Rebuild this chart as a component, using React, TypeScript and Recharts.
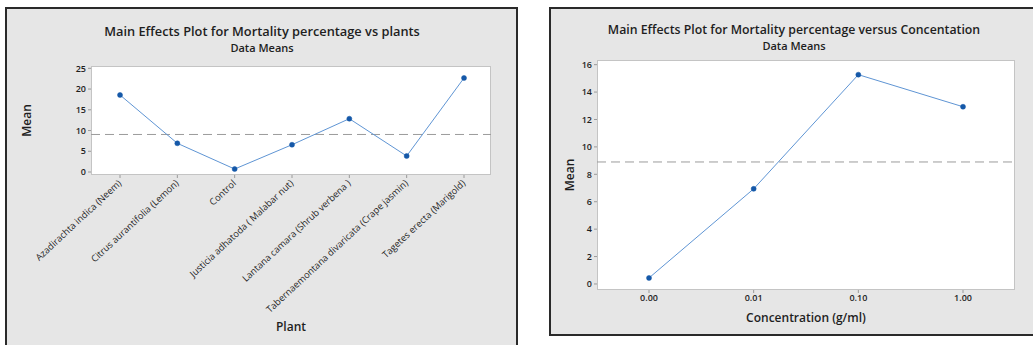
import { LineChart, Line, XAxis, YAxis, ReferenceLine } from "recharts";

const plants = [
  "Azadirachta indica (Neem)",
  "Citrus aurantifolia (Lemon)",
  "Control",
  "Justicia adhatoda ( Malabar nut)",
  "Lantana camara (Shrub verbena )",
  "Tabernaemontana divaricata (Crape jasmin)",
  "Tagetes erecta (Marigold)",
];
const plantMeans = [18.57, 6.92, 0.72, 6.58, 12.85, 3.86, 22.67];
const plantGrandMean = 9.05;
const plantTicks = [0, 5, 10, 15, 20, 25];

const concentrations = ["0.00", "0.01", "0.10", "1.00"];
const concMeans = [0.44, 6.94, 15.27, 12.93];
const concGrandMean = 8.9;
const concTicks = [0, 2, 4, 6, 8, 10, 12, 14, 16];

const plantData = plants.map((name, i) => ({ name, mean: plantMeans[i] }));
const concData = concentrations.map((name, i) => ({ name, mean: concMeans[i] }));

const FONT = "'Open Sans', 'Noto Sans', sans-serif";
const TEXT = "#1e1e1e";
const LINE = "#5f95d4";
const DOT = "#1558a8";
const DASH = "#9c9c9c";

function RotatedTick(props: any) {
  const { x, y, payload } = props;
  return (
    <g transform={`translate(${x + 2},${y + 4})`}>
      <text
        transform="rotate(-43)"
        textAnchor="end"
        fontSize={9.3}
        fontFamily={FONT}
        fill={TEXT}
      >
        {payload.value}
      </text>
    </g>
  );
}

const titleStyle: React.CSSProperties = {
  position: "absolute",
  textAlign: "center",
  fontFamily: FONT,
  fontWeight: 600,
  color: TEXT,
  whiteSpace: "nowrap",
};

export default function App() {
  return (
    <div
      style={{
        position: "fixed",
        left: 0,
        top: 0,
        width: 1033,
        height: 345,
        background: "#fff",
        overflow: "hidden",
      }}
    >
      {/* left panel */}
      <div
        style={{
          position: "absolute",
          left: 5,
          top: 7,
          width: 513,
          height: 360,
          boxSizing: "border-box",
          border: "2px solid #2a2a2a",
          background: "#e6e6e6",
        }}
      />
      <div
        style={{
          position: "absolute",
          left: 91,
          top: 66,
          width: 400,
          height: 109,
          boxSizing: "border-box",
          border: "1px solid #c4c4c4",
          background: "#fff",
        }}
      />
      <div style={{ ...titleStyle, left: 0, width: 524, top: 22, fontSize: 12.8 }}>
        Main Effects Plot for Mortality percentage vs plants
      </div>
      <div style={{ ...titleStyle, left: 0, width: 524, top: 40, fontSize: 11 }}>
        Data Means
      </div>
      <div style={{ position: "absolute", left: 0, top: 0 }}>
        <LineChart
          width={520}
          height={345}
          data={plantData}
          margin={{ top: 66, right: 29, bottom: 10, left: 61 }}
        >
          <XAxis
            dataKey="name"
            interval={0}
            padding={{ left: 29, right: 27 }}
            axisLine={false}
            tickLine={{ stroke: "#9a9a9a" }}
            tickSize={3}
            height={160}
            tick={<RotatedTick />}
            label={{
              value: "Plant",
              position: "insideBottom",
              offset: 4,
              style: { fontFamily: FONT, fontWeight: 600, fontSize: 12, fill: TEXT },
            }}
          />
          <YAxis
            type="number"
            domain={[-0.72, 25.56]}
            ticks={plantTicks}
            width={30}
            axisLine={false}
            tickLine={{ stroke: "#9a9a9a" }}
            tickSize={3}
            tick={{ fontSize: 9, fontFamily: FONT, fontWeight: 600, fill: TEXT }}
            label={{
              value: "Mean",
              angle: -90,
              position: "left",
              offset: 34,
              style: { textAnchor: "middle", fontFamily: FONT, fontWeight: 600, fontSize: 12, fill: TEXT },
            }}
          />
          <ReferenceLine y={plantGrandMean} stroke={DASH} strokeDasharray="9 5" />
          <Line
            dataKey="mean"
            stroke={LINE}
            strokeWidth={1}
            dot={{ r: 2.5, fill: DOT, stroke: DOT, strokeWidth: 0.5 }}
            isAnimationActive={false}
          />
        </LineChart>
      </div>

      {/* right panel */}
      <div
        style={{
          position: "absolute",
          left: 549,
          top: 7,
          width: 500,
          height: 329,
          boxSizing: "border-box",
          border: "2px solid #2a2a2a",
          background: "#e6e6e6",
        }}
      />
      <div
        style={{
          position: "absolute",
          left: 597,
          top: 60,
          width: 418,
          height: 230,
          boxSizing: "border-box",
          border: "1px solid #c4c4c4",
          background: "#fff",
        }}
      />
      <div style={{ ...titleStyle, left: 594, width: 400, top: 21, fontSize: 12.3 }}>
        Main Effects Plot for Mortality percentage versus Concentation
      </div>
      <div style={{ ...titleStyle, left: 594, width: 400, top: 38, fontSize: 11 }}>
        Data Means
      </div>
      <div style={{ position: "absolute", left: 540, top: 0 }}>
        <LineChart
          width={493}
          height={345}
          data={concData}
          margin={{ top: 60, right: 18, bottom: 15, left: 32 }}
        >
          <XAxis
            dataKey="name"
            interval={0}
            padding={{ left: 52, right: 52 }}
            axisLine={false}
            tickLine={{ stroke: "#9a9a9a" }}
            tickSize={3}
            height={40}
            tick={{ fontSize: 9, fontFamily: FONT, fontWeight: 600, fill: TEXT }}
            label={{
              value: "Concentration (g/ml)",
              position: "insideBottom",
              offset: 8,
              style: { fontFamily: FONT, fontWeight: 600, fontSize: 12, fill: TEXT },
            }}
          />
          <YAxis
            type="number"
            domain={[-0.44, 16.34]}
            ticks={concTicks}
            width={25}
            axisLine={false}
            tickLine={{ stroke: "#9a9a9a" }}
            tickSize={3}
            tick={{ fontSize: 9, fontFamily: FONT, fontWeight: 600, fill: TEXT }}
            label={{
              value: "Mean",
              angle: -90,
              position: "left",
              offset: 2,
              style: { textAnchor: "middle", fontFamily: FONT, fontWeight: 600, fontSize: 12, fill: TEXT },
            }}
          />
          <ReferenceLine y={concGrandMean} stroke={DASH} strokeDasharray="9 5" />
          <Line
            dataKey="mean"
            stroke={LINE}
            strokeWidth={1}
            dot={{ r: 2.5, fill: DOT, stroke: DOT, strokeWidth: 0.5 }}
            isAnimationActive={false}
          />
        </LineChart>
      </div>
    </div>
  );
}
